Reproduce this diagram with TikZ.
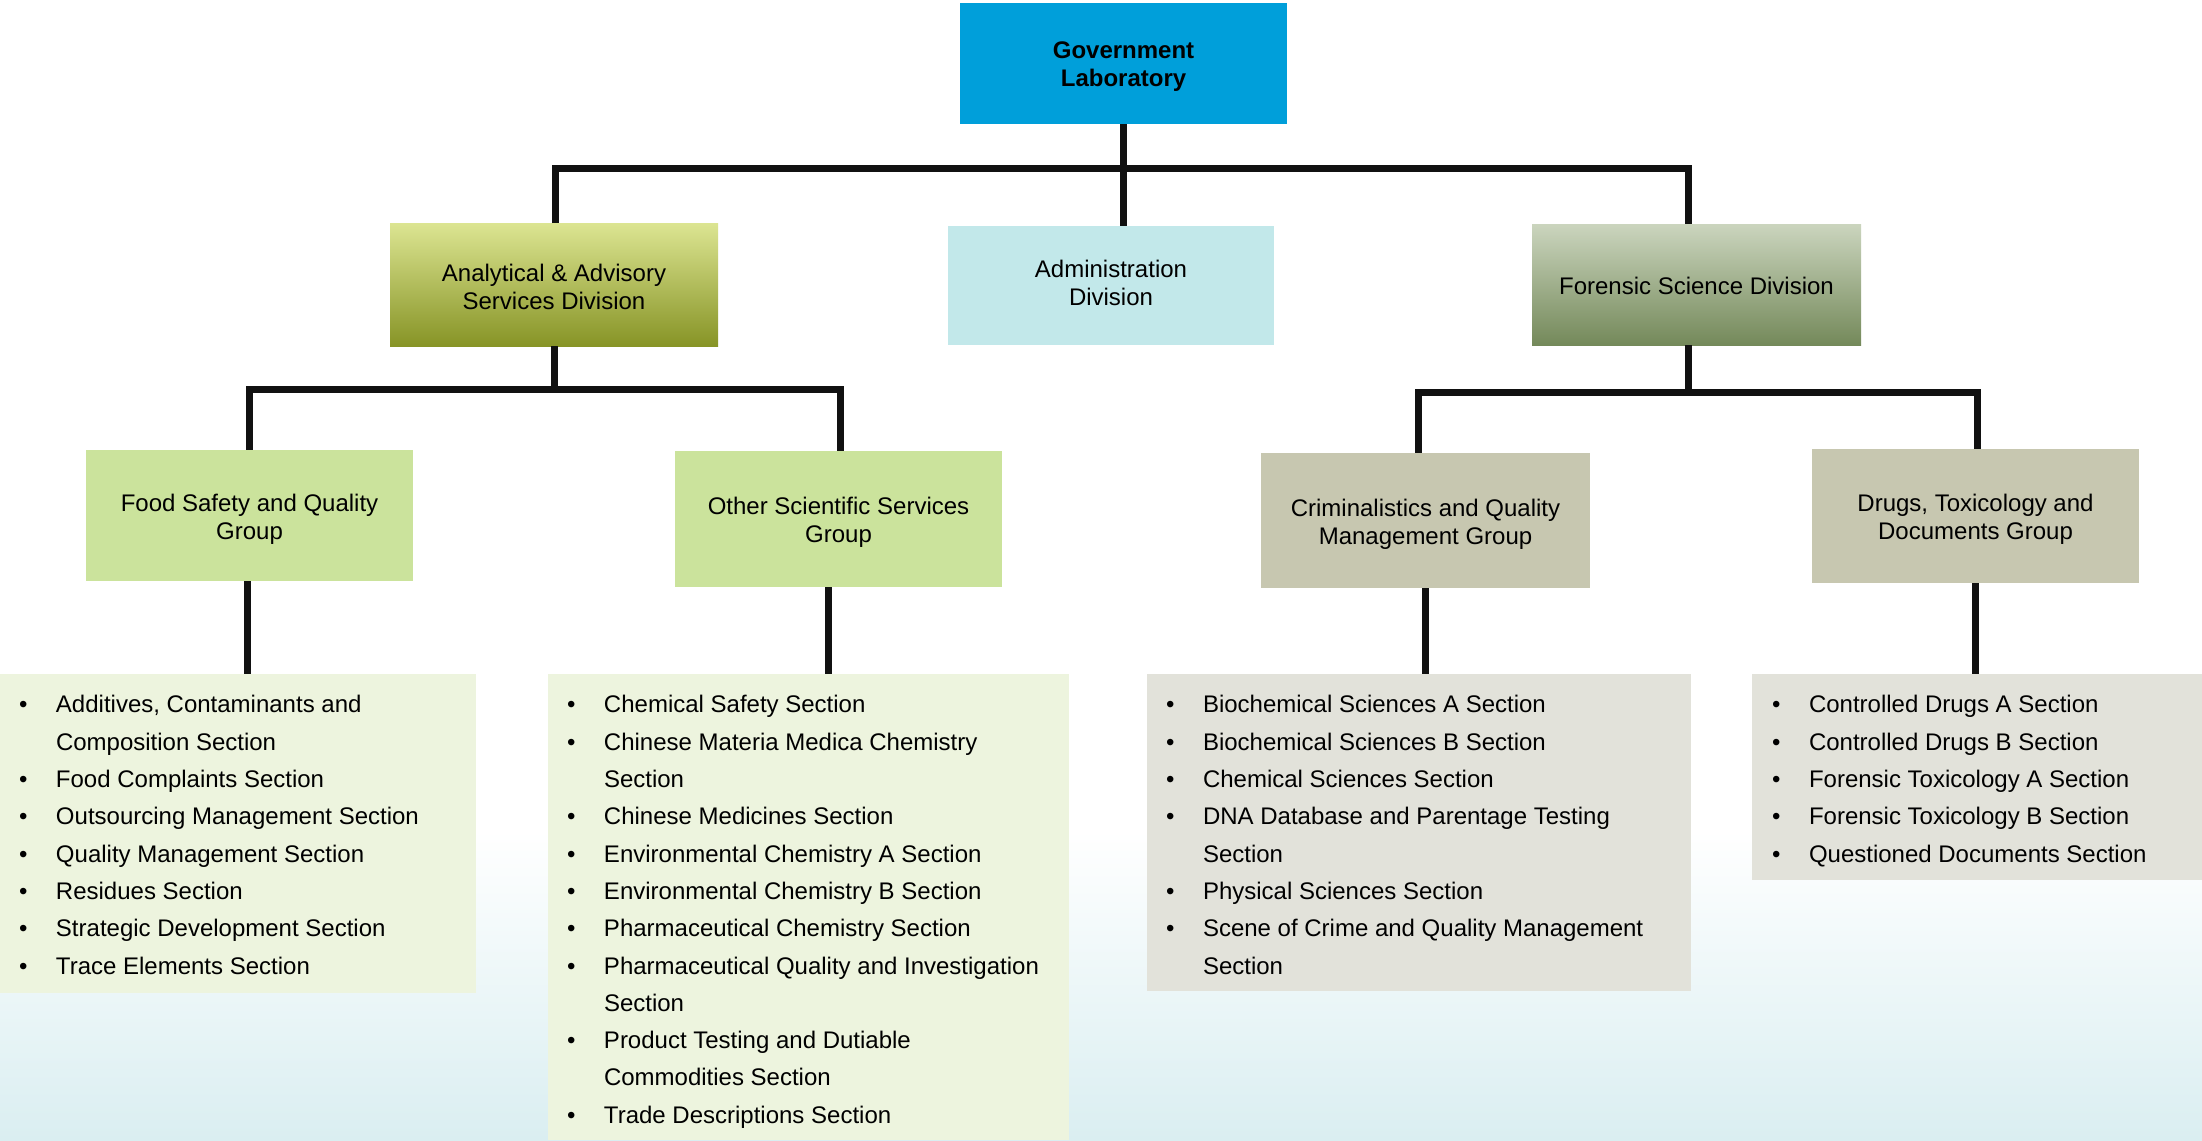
\documentclass[tikz,border=0pt]{standalone}
\usepackage{fontspec}
\setmainfont{Liberation Sans}
\definecolor{govblue}{RGB}{0,159,218}
\definecolor{anaT}{RGB}{220,229,146}
\definecolor{anaM}{RGB}{197,212,66}
\definecolor{anaB}{RGB}{135,148,38}
\definecolor{admc}{RGB}{194,232,234}
\definecolor{forT}{RGB}{203,213,190}
\definecolor{forM}{RGB}{166,180,146}
\definecolor{forB}{RGB}{116,137,90}
\definecolor{grpg}{RGB}{203,227,156}
\definecolor{grpk}{RGB}{199,199,176}
\definecolor{lstg}{RGB}{237,244,222}
\definecolor{lstk}{RGB}{226,226,218}
\definecolor{bgc}{RGB}{218,238,241}
\definecolor{lnc}{RGB}{17,17,17}
\newcommand\lbul[1]{\strut\makebox[37pt][l]{\textbullet}#1}
\newcommand\lcont[1]{\strut\hspace*{37pt}#1}
\newcommand\tpad{\rule{0pt}{24.5pt}}
\begin{document}
\begin{tikzpicture}[x=1pt,y=-1pt,
  conn/.style={line width=7pt, draw=lnc},
  box/.style={rectangle, inner sep=0pt, outer sep=0pt, align=center, text=black,
    font=\fontsize{24}{28}\selectfont},
  lbox/.style={rectangle, inner sep=0pt, outer sep=0pt, anchor=north west},
  ltext/.style={anchor=north west, inner sep=0pt, outer sep=0pt, align=left,
    font=\fontsize{24}{37.3}\selectfont}]
\useasboundingbox (0,0) rectangle (2202,1140);
\fill[white] (0,0) rectangle (2202,1140);
\fill[top color=white, bottom color=bgc] (0,830) rectangle (2202,1140);

% top level
\node[box, fill=govblue, minimum width=327pt, minimum height=121pt,
  font=\bfseries\fontsize{24}{28}\selectfont] (gov) at (1123.5,63.5) {\rule{0pt}{22pt}Government\\Laboratory};
% divisions
\node[box, top color=anaT, middle color=anaM, bottom color=anaB,
  minimum width=328pt, minimum height=123pt] (ana) at (554,284.5) {\rule{0pt}{22pt}Analytical \& Advisory\\Services Division};
\node[box, fill=admc, minimum width=326pt, minimum height=119pt] (adm) at (1111,285.5) {Administration\\Division\rule[-6pt]{0pt}{6pt}};
\node[box, top color=forT, middle color=forM, bottom color=forB,
  minimum width=329pt, minimum height=121pt] (for) at (1696.5,284.5) {\rule{0pt}{20pt}Forensic Science Division};
% groups
\node[box, fill=grpg, minimum width=327pt, minimum height=131pt] (food) at (249.5,515.5) {\tpad Food Safety and Quality\\Group};
\node[box, fill=grpg, minimum width=327pt, minimum height=136pt] (oth) at (838.5,519) {\tpad Other Scientific Services\\Group};
\node[box, fill=grpk, minimum width=329pt, minimum height=135pt] (crim) at (1425.5,520.5) {\tpad Criminalistics and Quality\\Management Group};
\node[box, fill=grpk, minimum width=327pt, minimum height=134pt] (drugs) at (1975.5,516) {\tpad Drugs, Toxicology and\\Documents Group};
% list boxes
\node[lbox, fill=lstg, minimum width=476pt, minimum height=319pt] (foodl) at (0,674) {};
\node[lbox, fill=lstg, minimum width=521pt, minimum height=466pt] (othl) at (548,674) {};
\node[lbox, fill=lstk, minimum width=544pt, minimum height=317pt] (criml) at (1147,674) {};
\node[lbox, fill=lstk, minimum width=450pt, minimum height=206pt] (drugl) at (1752,674) {};

\node[ltext] (foodt) at (19,686.8) {%
\lbul{Additives, Contaminants and}\\
\lcont{Composition Section}\\
\lbul{Food Complaints Section}\\
\lbul{Outsourcing Management Section}\\
\lbul{Quality Management Section}\\
\lbul{Residues Section}\\
\lbul{Strategic Development Section}\\
\lbul{Trace Elements Section}};
\node[ltext] (otht) at (567,686.8) {%
\lbul{Chemical Safety Section}\\
\lbul{Chinese Materia Medica Chemistry}\\
\lcont{Section}\\
\lbul{Chinese Medicines Section}\\
\lbul{Environmental Chemistry A Section}\\
\lbul{Environmental Chemistry B Section}\\
\lbul{Pharmaceutical Chemistry Section}\\
\lbul{Pharmaceutical Quality and Investigation}\\
\lcont{Section}\\
\lbul{Product Testing and Dutiable}\\
\lcont{Commodities Section}\\
\lbul{Trade Descriptions Section}};
\node[ltext] (crimt) at (1166,686.8) {%
\lbul{Biochemical Sciences A Section}\\
\lbul{Biochemical Sciences B Section}\\
\lbul{Chemical Sciences Section}\\
\lbul{DNA Database and Parentage Testing}\\
\lcont{Section}\\
\lbul{Physical Sciences Section}\\
\lbul{Scene of Crime and Quality Management}\\
\lcont{Section}};
\node[ltext] (drugt) at (1772,686.8) {%
\lbul{Controlled Drugs A Section}\\
\lbul{Controlled Drugs B Section}\\
\lbul{Forensic Toxicology A Section}\\
\lbul{Forensic Toxicology B Section}\\
\lbul{Questioned Documents Section}};

% connectors
\draw[conn] (gov.south) -- (gov.south |- adm.north);
\path ([xshift=1pt]ana.north) coordinate (an) ([xshift=-8.5pt]for.north) coordinate (fn);
\draw[conn] (an) -- ++(0,-55) -| (fn);
\draw[conn] (ana.south) -- ++(0,43) -| (food.north);
\draw[conn] (ana.south) -- ++(0,43) -| ([xshift=2pt]oth.north);
\path ([xshift=-8pt]for.south) coordinate (fs);
\draw[conn] (fs) -- ++(0,47) -| ([xshift=-7pt]crim.north);
\draw[conn] (fs) -- ++(0,47) -| ([xshift=1.5pt]drugs.north);
\path ([xshift=-2.5pt]food.south) coordinate (fds) ([xshift=-10pt]oth.south) coordinate (ots);
\draw[conn] (fds) -- (fds |- foodl.north);
\draw[conn] (ots) -- (ots |- othl.north);
\draw[conn] (crim.south) -- (crim.south |- criml.north);
\draw[conn] (drugs.south) -- (drugs.south |- drugl.north);
\end{tikzpicture}
\end{document}
